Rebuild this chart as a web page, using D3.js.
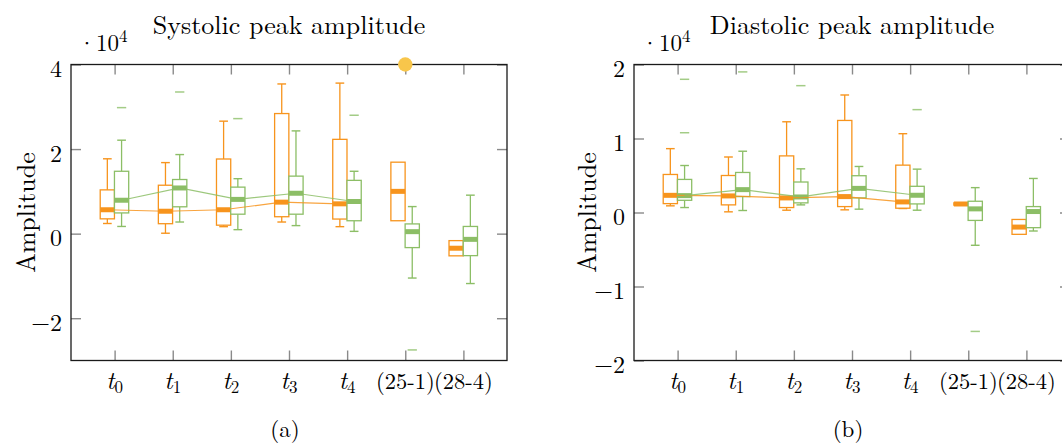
<!DOCTYPE html>
<html><head><meta charset="utf-8">
<script src="https://cdn.jsdelivr.net/npm/d3@7"></script>
<style>
body{margin:0;background:#fff}
svg{display:block}
</style>
</head><body>
<svg id="c" width="1062" height="446"></svg>
<script>
// ---------- data ----------
const categories = ["t0","t1","t2","t3","t4","(25-1)","(28-4)"];
// each row: [whisker low, q1, median, q3, whisker high]  (units of 10^4)
const sysOrange = [
  [0.24, 0.35, 0.565, 1.035, 1.77],
  [0.01, 0.235, 0.53, 1.145, 1.68],
  [0.165, 0.2, 0.565, 1.765, 2.66],
  [0.275, 0.4, 0.745, 2.84, 3.54],
  [0.165, 0.345, 0.705, 2.23, 3.56],
  [0.305, 0.305, 1.0, 1.69, 1.69],
  [-0.525, -0.525, -0.345, -0.165, -0.165]
];
const sysGreen = [
  [0.17, 0.49, 0.79, 1.475, 2.21],
  [0.275, 0.635, 1.08, 1.28, 1.87],
  [0.094, 0.46, 0.81, 1.1, 1.3],
  [0.19, 0.46, 0.955, 1.36, 2.43],
  [0.054, 0.305, 0.76, 1.26, 1.475],
  [-1.05, -0.33, 0.047, 0.23, 0.64],
  [-1.18, -0.52, -0.135, 0.17, 0.91]
];
const sysGreenOutliers = [[2.98],[3.35],[2.72],[],[2.8],[-2.75],[]];
const sysOrangeOutliers = [[],[],[],[],[],[],[]];

const diaOrange = [
  [0.09, 0.12, 0.232, 0.514, 0.863],
  [0.009, 0.103, 0.224, 0.5, 0.75],
  [0.031, 0.067, 0.197, 0.765, 1.226],
  [0.036, 0.08, 0.215, 1.244, 1.588],
  [0.054, 0.058, 0.143, 0.64, 1.065],
  [0.1, 0.1, 0.115, 0.13, 0.13],
  [-0.295, -0.295, -0.197, -0.094, -0.094]
];
const diaGreen = [
  [0.067, 0.165, 0.228, 0.447, 0.635],
  [0.027, 0.215, 0.309, 0.541, 0.828],
  [0.103, 0.13, 0.21, 0.412, 0.59],
  [0.045, 0.197, 0.326, 0.497, 0.622],
  [0.031, 0.116, 0.233, 0.354, 0.586],
  [-0.443, -0.107, 0.049, 0.152, 0.336],
  [-0.25, -0.205, 0.013, 0.08, 0.46]
];
const diaGreenOutliers = [[1.8, 1.078],[1.9],[1.714],[],[1.39],[-1.607],[]];
const diaOrangeOutliers = [[],[],[],[],[],[],[]];

const sysTicks = [-2, 0, 2, 4];
const diaTicks = [-2, -1, 0, 1, 2];
const trendCount = 5; // medians of t0..t4 are connected

// ---------- drawing ----------
const FONT = "'Latin Modern Roman','CMU Serif','Liberation Serif',serif";
const svg = d3.select("#c");
const TOP = 64.5, BOTTOM = 360.5, TICK = 10;
const ORANGE = "#F7941D", GREEN = "#8CBE66";
const ORANGE_L = "#F8A850", GREEN_L = "#A3CC86";

function fmt(v){ return v < 0 ? "\u2212" + Math.abs(v) : String(v); }
function txt(sel){ return sel.append("text").attr("font-family",FONT).attr("fill","#000"); }

function panel(o){
  const g = svg.append("g");
  const pos = d3.range(1, categories.length + 1);
  const x = d3.scaleLinear().domain([0.25, 7.75]).range([o.x0, o.x1]);
  const y = d3.scaleLinear().domain(o.yDom).range([BOTTOM, TOP]);

  const tk = s => { s.select(".domain").remove();
    s.selectAll(".tick line").attr("stroke","#8a8a8a").attr("stroke-width",1.4);
    s.selectAll(".tick text").remove(); };
  g.append("g").attr("transform",`translate(0,${BOTTOM})`).call(d3.axisBottom(x).tickValues(pos).tickSize(-TICK)).call(tk);
  g.append("g").attr("transform",`translate(0,${TOP})`).call(d3.axisTop(x).tickValues(pos).tickSize(-TICK)).call(tk);
  g.append("g").attr("transform",`translate(${o.x0},0)`).call(d3.axisLeft(y).tickValues(o.yTicks).tickSize(-TICK)).call(tk);
  g.append("g").attr("transform",`translate(${o.x1},0)`).call(d3.axisRight(y).tickValues(o.yTicks).tickSize(-TICK)).call(tk);

  const bw = 0.245, cw = 0.15, ow = 0.16;
  function boxes(data, outs, off, col, colL){
    const bg = g.append("g");
    data.forEach((d,i)=>{
      const c = pos[i] + off;
      const [lo,q1,med,q3,hi] = d;
      const xc = x(c);
      if (hi > q3) {
        bg.append("line").attr("x1",xc).attr("x2",xc).attr("y1",y(q3)).attr("y2",y(hi)).attr("stroke",col).attr("stroke-width",1.3);
        bg.append("line").attr("x1",x(c-cw/2)).attr("x2",x(c+cw/2)).attr("y1",y(hi)).attr("y2",y(hi)).attr("stroke",col).attr("stroke-width",1.4);
      }
      if (lo < q1) {
        bg.append("line").attr("x1",xc).attr("x2",xc).attr("y1",y(q1)).attr("y2",y(lo)).attr("stroke",col).attr("stroke-width",1.3);
        bg.append("line").attr("x1",x(c-cw/2)).attr("x2",x(c+cw/2)).attr("y1",y(lo)).attr("y2",y(lo)).attr("stroke",col).attr("stroke-width",1.4);
      }
      bg.append("rect").attr("x",x(c-bw/2)).attr("width",x(c+bw/2)-x(c-bw/2))
        .attr("y",y(q3)).attr("height",Math.max(0.5,y(q1)-y(q3)))
        .attr("fill","#fff").attr("stroke",col).attr("stroke-width",1.3);
      bg.append("line").attr("x1",x(c-bw/2)).attr("x2",x(c+bw/2)).attr("y1",y(med)).attr("y2",y(med))
        .attr("stroke",col).attr("stroke-width",5);
      (outs[i]||[]).forEach(v=>{
        bg.append("line").attr("x1",x(c-ow/2)).attr("x2",x(c+ow/2)).attr("y1",y(v)).attr("y2",y(v))
          .attr("stroke",colL).attr("stroke-width",1.5);
      });
    });
  }
  boxes(o.orange, o.orangeOut, -0.125, ORANGE, ORANGE_L);
  boxes(o.green, o.greenOut, 0.12, GREEN, GREEN_L);

  const line = off => d3.line().x((d,i)=>x(pos[i]+off)).y(d=>y(d[2]));
  g.append("path").datum(o.orange.slice(0,trendCount)).attr("d",line(-0.125)).attr("fill","none").attr("stroke",ORANGE).attr("stroke-opacity",0.85).attr("stroke-width",1.2);
  g.append("path").datum(o.green.slice(0,trendCount)).attr("d",line(0.12)).attr("fill","none").attr("stroke",GREEN).attr("stroke-opacity",0.85).attr("stroke-width",1.2);

  // frame
  g.append("rect").attr("x",o.x0).attr("y",TOP).attr("width",o.x1-o.x0).attr("height",BOTTOM-TOP)
    .attr("fill","none").attr("stroke","#1a1a1a").attr("stroke-width",1.3);

  // y tick labels
  o.yTicks.forEach(v=>{
    txt(g).attr("x",o.x0-9).attr("y",y(v)+2.5).attr("text-anchor","end")
      .attr("dominant-baseline","central").attr("font-size",24).text(fmt(v));
  });
  // x tick labels
  categories.forEach((c,i)=>{
    const t = txt(g).attr("x",x(pos[i])).attr("y",389).attr("text-anchor","middle");
    const m = /^t(\d)$/.exec(c);
    if (m){
      t.append("tspan").attr("font-style","italic").attr("font-size",25).text("t");
      t.append("tspan").attr("font-size",17).attr("dy",4).text(m[1]);
    } else {
      t.attr("font-size",22.5).text(c);
    }
  });
  // scale label
  const s = txt(g).attr("x",o.x0+7).attr("y",51).attr("font-size",23);
  s.append("tspan").text("\u00B710");
  s.append("tspan").attr("font-size",17).attr("dy",-9).text("4");
  // title
  txt(g).attr("x",(o.x0+o.x1)/2).attr("y",34).attr("text-anchor","middle").attr("font-size",26).text(o.title);
  // y label
  txt(g).attr("transform",`translate(${o.ylabX},${(TOP+BOTTOM)/2}) rotate(-90)`)
    .attr("text-anchor","middle").attr("font-size",26).text("Amplitude");
  // caption
  txt(g).attr("x",(o.x0+o.x1)/2 - 4).attr("y",437).attr("text-anchor","middle").attr("font-size",23).text(o.sub);
  return {x,y,g};
}

const p1 = panel({x0:71, x1:507, yDom:[-3,4], yTicks:sysTicks, title:"Systolic peak amplitude", sub:"(a)",
  orange:sysOrange, green:sysGreen, orangeOut:sysOrangeOutliers, greenOut:sysGreenOutliers, ylabX:35});
const p2 = panel({x0:634, x1:1070, yDom:[-2,2], yTicks:diaTicks, title:"Diastolic peak amplitude", sub:"(b)",
  orange:diaOrange, green:diaGreen, orangeOut:diaOrangeOutliers, greenOut:diaGreenOutliers, ylabX:596});

// yellow marker on top edge of panel (a)
p1.g.append("circle").attr("cx",p1.x(6)).attr("cy",p1.y(4)).attr("r",7.2).attr("fill","#F8C64B");
</script>
</body></html>
